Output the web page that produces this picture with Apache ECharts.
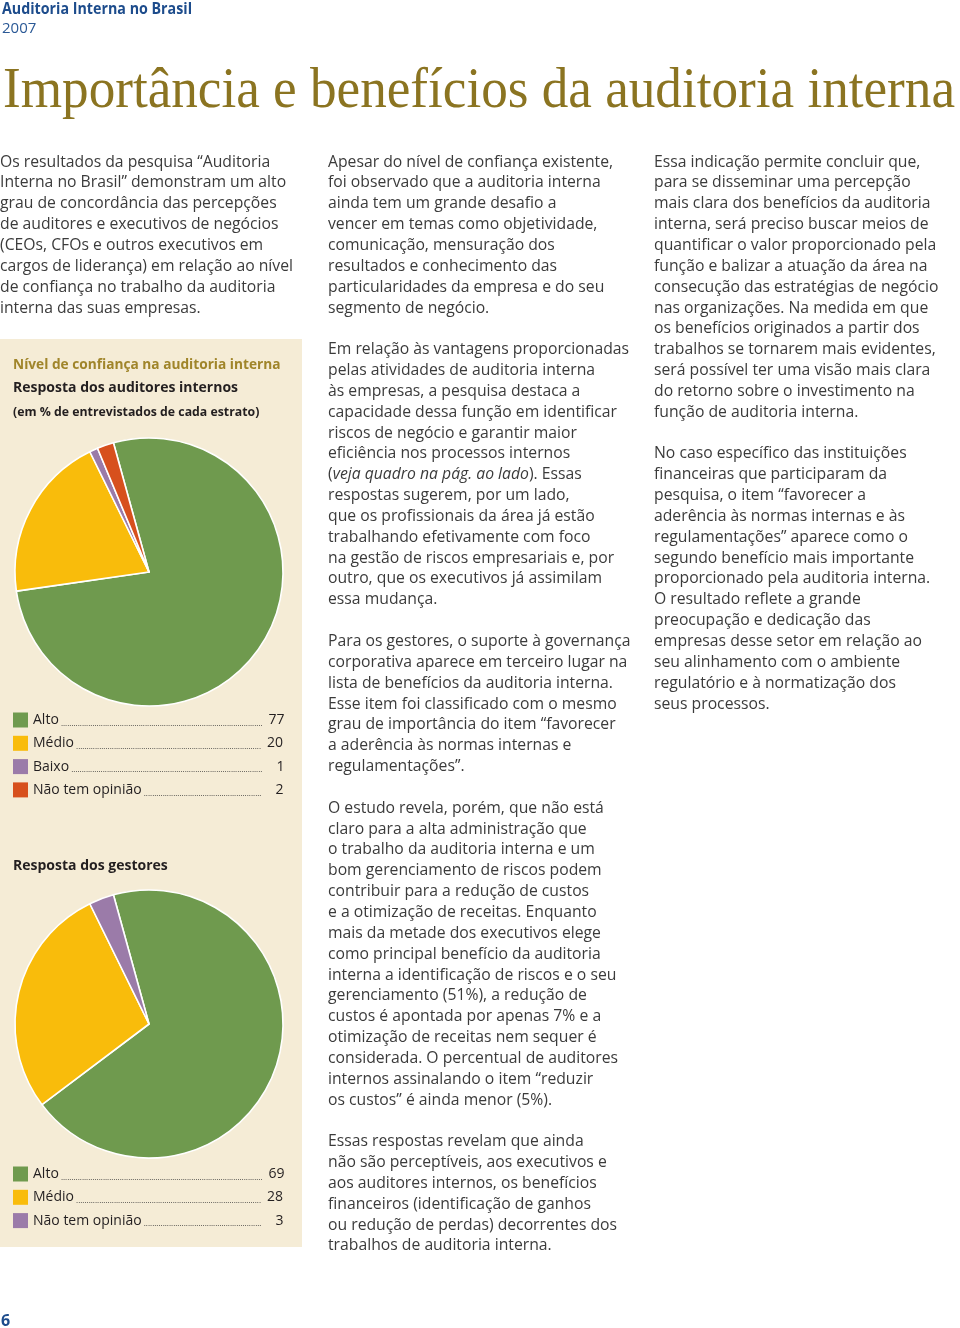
<!DOCTYPE html>
<html><head><meta charset="utf-8">
<script src="https://cdn.jsdelivr.net/npm/echarts@6/dist/echarts.min.js"></script>
<style>
html,body{margin:0;padding:0;background:#fff;width:960px;height:1328px;overflow:hidden;}
#chart{position:absolute;left:0;top:0;width:960px;height:1328px;}
.abs{position:absolute;white-space:nowrap;transform-origin:0 0;}
.col{position:absolute;top:150.6px;font-family:"Open Sans",sans-serif;font-size:16px;color:#3b3b3b;transform-origin:0 0;}
.col div{height:20.85px;line-height:20.85px;white-space:nowrap;}
.col span{display:inline-block;}
</style></head>
<body>
<div id="chart"></div>
<div class="abs" id="hdr1" style="left:2px;top:-1px;font-family:'Open Sans',sans-serif;font-weight:700;font-size:15.5px;line-height:18px;color:#1d4c8c;"><span id="hdr1s" style="display:inline-block">Auditoria Interna no Brasil</span></div>
<div class="abs" style="left:2px;top:18px;font-family:'Open Sans',sans-serif;font-size:15px;line-height:18px;color:#2b5996;">2007</div>
<div class="abs" id="ttl" style="left:3px;top:59px;font-family:'Liberation Serif',serif;font-size:58px;line-height:58px;color:#8b7421;"><span id="ttls" style="display:inline-block">Importância e benefícios da auditoria interna</span></div>
<div class="abs" style="left:1px;top:1311px;font-family:'Open Sans',sans-serif;font-weight:700;font-size:16px;line-height:18px;color:#1d4c8c;">6</div>
<div class="col" id="c1" style="left:0px"></div>
<div class="col" id="c2" style="left:328px"></div>
<div class="col" id="c3" style="left:654px"></div>
<script>
// ---- chart data ----
const auditCats = ['Alto', 'Médio', 'Baixo', 'Não tem opinião'];
const auditVals = [77, 20, 1, 2];
const mgrCats = ['Alto', 'Médio', 'Não tem opinião'];
const mgrVals = [69, 28, 3];
// ---- text ----
const panelTitle = 'Nível de confiança na auditoria interna';
const auditTitle = 'Resposta dos auditores internos';
const unitNote = '(em % de entrevistados de cada estrato)';
const mgrTitle = 'Resposta dos gestores';
const col1Lines = [
 'Os resultados da pesquisa “Auditoria',
 'Interna no Brasil” demonstram um alto',
 'grau de concordância das percepções',
 'de auditores e executivos de negócios',
 '(CEOs, CFOs e outros executivos em',
 'cargos de liderança) em relação ao nível',
 'de confiança no trabalho da auditoria',
 'interna das suas empresas.'
];
const col2Lines = [
 'Apesar do nível de confiança existente,',
 'foi observado que a auditoria interna',
 'ainda tem um grande desafio a',
 'vencer em temas como objetividade,',
 'comunicação, mensuração dos',
 'resultados e conhecimento das',
 'particularidades da empresa e do seu',
 'segmento de negócio.',
 '',
 'Em relação às vantagens proporcionadas',
 'pelas atividades de auditoria interna',
 'às empresas, a pesquisa destaca a',
 'capacidade dessa função em identificar',
 'riscos de negócio e garantir maior',
 'eficiência nos processos internos',
 '(<i>veja quadro na pág. ao lado</i>). Essas',
 'respostas sugerem, por um lado,',
 'que os profissionais da área já estão',
 'trabalhando efetivamente com foco',
 'na gestão de riscos empresariais e, por',
 'outro, que os executivos já assimilam',
 'essa mudança.',
 '',
 'Para os gestores, o suporte à governança',
 'corporativa aparece em terceiro lugar na',
 'lista de benefícios da auditoria interna.',
 'Esse item foi classificado com o mesmo',
 'grau de importância do item “favorecer',
 'a aderência às normas internas e',
 'regulamentações”.',
 '',
 'O estudo revela, porém, que não está',
 'claro para a alta administração que',
 'o trabalho da auditoria interna e um',
 'bom gerenciamento de riscos podem',
 'contribuir para a redução de custos',
 'e a otimização de receitas. Enquanto',
 'mais da metade dos executivos elege',
 'como principal benefício da auditoria',
 'interna a identificação de riscos e o seu',
 'gerenciamento (51%), a redução de',
 'custos é apontada por apenas 7% e a',
 'otimização de receitas nem sequer é',
 'considerada. O percentual de auditores',
 'internos assinalando o item “reduzir',
 'os custos” é ainda menor (5%).',
 '',
 'Essas respostas revelam que ainda',
 'não são perceptíveis, aos executivos e',
 'aos auditores internos, os benefícios',
 'financeiros (identificação de ganhos',
 'ou redução de perdas) decorrentes dos',
 'trabalhos de auditoria interna.'
];
const col3Lines = [
 'Essa indicação permite concluir que,',
 'para se disseminar uma percepção',
 'mais clara dos benefícios da auditoria',
 'interna, será preciso buscar meios de',
 'quantificar o valor proporcionado pela',
 'função e balizar a atuação da área na',
 'consecução das estratégias de negócio',
 'nas organizações. Na medida em que',
 'os benefícios originados a partir dos',
 'trabalhos se tornarem mais evidentes,',
 'será possível ter uma visão mais clara',
 'do retorno sobre o investimento na',
 'função de auditoria interna.',
 '',
 'No caso específico das instituições',
 'financeiras que participaram da',
 'pesquisa, o item “favorecer a',
 'aderência às normas internas e às',
 'regulamentações” aparece como o',
 'segundo benefício mais importante',
 'proporcionado pela auditoria interna.',
 'O resultado reflete a grande',
 'preocupação e dedicação das',
 'empresas desse setor em relação ao',
 'seu alinhamento com o ambiente',
 'regulatório e à normatização dos',
 'seus processos.'
];
function fill(id, lines){
  const el = document.getElementById(id);
  el.innerHTML = lines.map(l => '<div><span>' + (l || '&nbsp;') + '</span></div>').join('');
}
fill('c1', col1Lines); fill('c2', col2Lines); fill('c3', col3Lines);
// fit text widths
const refSpan = document.querySelectorAll('#c1 span')[5];
const f = 293 / refSpan.getBoundingClientRect().width;
['c1','c2','c3'].forEach(id => document.getElementById(id).style.transform = 'scaleX(' + f + ')');
function fitTo(spanId, target){
  const s = document.getElementById(spanId);
  const w = s.getBoundingClientRect().width;
  s.parentNode.style.transform = 'scaleX(' + (target / w) + ')';
}
fitTo('ttls', 952);
fitTo('hdr1s', 190);

// ---- chart ----
const colorOf = {'Alto':'#6f9a4e','Médio':'#f9bc0b','Baixo':'#9b7ba9'};
const auditColors = auditCats.map(c => c === 'Não tem opinião' ? '#d7501d' : colorOf[c]);
const mgrColors = mgrCats.map(c => c === 'Não tem opinião' ? '#9b7ba9' : colorOf[c]);
const FONT = '"Open Sans", sans-serif';
const ctx = document.createElement('canvas').getContext('2d');
function tw(s, font){ ctx.font = font; return ctx.measureText(s).width; }
function makeFmt(cats, vals){
  return function(name){
    const v = vals[cats.indexOf(name)];
    const nw = tw(name, '14px ' + FONT);
    const dw = tw('.', '8px ' + FONT);
    const n = Math.max(0, Math.floor((254 - nw - 22 - 4) / dw));
    return '{n|' + name + '}{d|' + ' ' + '.'.repeat(n) + '}{v|' + v + '}';
  };
}
const rich = {
  n: {fontFamily: FONT, fontSize: 14, color: '#231f20', lineHeight: 15},
  d: {fontFamily: FONT, fontSize: 8, color: '#333', lineHeight: 15, verticalAlign: 'bottom'},
  v: {fontFamily: FONT, fontSize: 14, color: '#231f20', lineHeight: 15, width: 22, align: 'right'}
};
function legendCfg(cats, vals, colors, top){
  return {
    orient: 'vertical', left: 13, top: top, padding: 0, itemWidth: 15, itemHeight: 15, itemGap: 8.3,
    icon: 'rect', selectedMode: false,
    itemStyle: {borderWidth: 0},
    data: cats.map((c, i) => ({name: c, itemStyle: {color: colors[i], borderWidth: 0}})),
    formatter: makeFmt(cats, vals),
    textStyle: {rich: rich}
  };
}
function pieCfg(cats, vals, colors, cy){
  return {
    type: 'pie', radius: 134, center: [149, cy], startAngle: 105.4, clockwise: true,
    silent: true, label: {show: false}, labelLine: {show: false},
    itemStyle: {borderColor: '#fff', borderWidth: 1.6},
    emphasis: {disabled: true},
    data: cats.map((c, i) => ({name: c, value: vals[i], itemStyle: {color: colors[i]}}))
  };
}
const chart = echarts.init(document.getElementById('chart'), null, {renderer: 'canvas'});
chart.setOption({
  animation: false,
  graphic: [{type: 'rect', z: -10, silent: true, shape: {x: 0, y: 339, width: 302, height: 908}, style: {fill: '#f5ecd6'}}],
  title: [
    {text: panelTitle, left: 13, top: 355, padding: 0, textStyle: {fontFamily: FONT, fontSize: 13.7, fontWeight: 'bold', color: '#a0852a', lineHeight: 20}},
    {text: auditTitle, left: 13, top: 378, padding: 0, textStyle: {fontFamily: FONT, fontSize: 14, fontWeight: 'bold', color: '#231f20', lineHeight: 20}},
    {text: unitNote, left: 13, top: 402, padding: 0, textStyle: {fontFamily: FONT, fontSize: 12.3, fontWeight: 'bold', color: '#231f20', lineHeight: 20}},
    {text: mgrTitle, left: 13, top: 856, padding: 0, textStyle: {fontFamily: FONT, fontSize: 14, fontWeight: 'bold', color: '#231f20', lineHeight: 20}}
  ],
  legend: [legendCfg(auditCats, auditVals, auditColors, 712.5), legendCfg(mgrCats, mgrVals, mgrColors, 1166.5)],
  series: [pieCfg(auditCats, auditVals, auditColors, 572), pieCfg(mgrCats, mgrVals, mgrColors, 1024)]
});
</script>
</body></html>
